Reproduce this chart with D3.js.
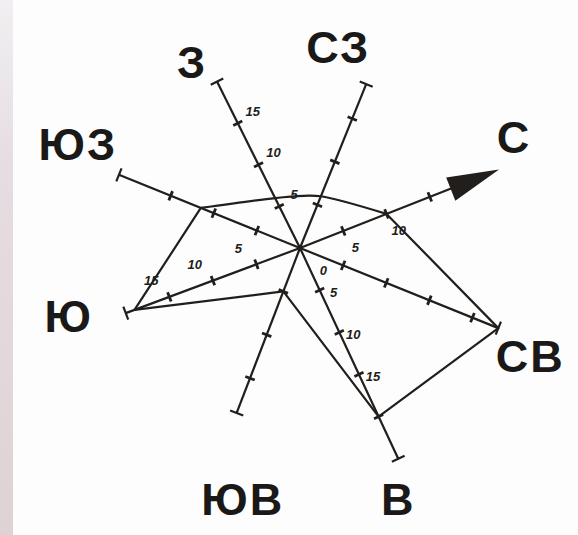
<!DOCTYPE html>
<html>
<head>
<meta charset="utf-8">
<script src="https://cdn.jsdelivr.net/npm/d3@7"></script>
<style>
  html, body { margin: 0; padding: 0; background: #fdfdfd; }
  svg { display: block; }
</style>
</head>
<body>
<div id="chart"></div>
<script>
// wind directions, clockwise from north
var directions = ["С", "СВ", "В", "ЮВ", "Ю", "ЮЗ", "З", "СЗ"];
// wind frequency per direction
var frequency = [10, 23, 20, 5, 19, 11.5, 6, 6];
// how far each axis is drawn (same units)
var axisLength = [23, 23, 25, 19, 20, 21, 20, 19];
var tickValues = [5, 10, 15, 20];
// numbers written along some axes
var labelAxis = ["З", "З", "З", "Ю", "Ю", "Ю", "С", "С", "В", "В", "В", "В"];
var labelText = ["5", "10", "15", "5", "10", "15", "5", "10", "0", "5", "10", "15"];

// layout: the rose is drawn in a tilted view
var w = 578, h = 535;
var cx = 300, cy = 248;
var axisAngle = [-21.5, 22, 65, 111, 159.5, 202, 243.5, 292]; // screen degrees
var labelSide = {"З": 19, "Ю": 22, "С": 19, "В": -12};
var labelShift = {"З": 0.5, "Ю": 1.2, "С": 0.6, "В": 0.8};
var nameOffset = [[15, -17], [32, 44], [0, 56], [6, 102], [-57, 19], [-41, -15], [-25, -4], [-28, -21]];
var ink = "#221e1b";

var r = d3.scaleLinear().domain([0, 5]).range([0, 46.5]);

function pt(i, v) {
	var a = (axisAngle[i] + 90) * Math.PI / 180;
	var p = d3.pointRadial(a, r(v));
	return [cx + p[0], cy + p[1]];
}
function unit(i) {
	var a = axisAngle[i] * Math.PI / 180;
	return [Math.cos(a), Math.sin(a)];
}

var svg = d3.select("#chart")
			.append("svg")
			.attr("width", w)
			.attr("height", h);

// scanned page edge on the left
var grad = svg.append("defs").append("linearGradient")
	.attr("id", "edge").attr("x1", 0).attr("y1", 0).attr("x2", 0).attr("y2", 1);
grad.append("stop").attr("offset", "0%").attr("stop-color", "#f1eff1");
grad.append("stop").attr("offset", "30%").attr("stop-color", "#e6dde2");
grad.append("stop").attr("offset", "100%").attr("stop-color", "#dfd2d4");
svg.append("rect").attr("x", 0).attr("y", 0).attr("width", 13).attr("height", h).attr("fill", "url(#edge)");

var g = svg.append("g");

// axes (north one ends with an arrow)
g.selectAll("line.axis")
	.data(directions)
	.enter()
	.append("line")
	.attr("class", "axis")
	.attr("x1", cx).attr("y1", cy)
	.attr("x2", function(d, i) { return pt(i, i === 0 ? axisLength[i] - 4 : axisLength[i])[0]; })
	.attr("y2", function(d, i) { return pt(i, i === 0 ? axisLength[i] - 4 : axisLength[i])[1]; })
	.attr("stroke", ink)
	.attr("stroke-width", 2.2);

// ticks every 5 units
var ticks = [];
directions.forEach(function(d, i) {
	tickValues.forEach(function(v) {
		if (v < axisLength[i] - 1.2 && !(i === 0 && v > 16)) ticks.push({i: i, v: v, len: 5});
	});
	if (i !== 0) ticks.push({i: i, v: axisLength[i], len: 7});
});
g.selectAll("line.tick")
	.data(ticks)
	.enter()
	.append("line")
	.attr("class", "tick")
	.each(function(d) {
		var p = pt(d.i, d.v), u = unit(d.i);
		d3.select(this)
			.attr("x1", p[0] - u[1] * d.len).attr("y1", p[1] + u[0] * d.len)
			.attr("x2", p[0] + u[1] * d.len).attr("y2", p[1] - u[0] * d.len);
	})
	.attr("stroke", ink)
	.attr("stroke-width", function(d) { return d.len > 5 ? 2.2 : 2.8; });

// arrow head on north axis
var tip = pt(0, axisLength[0]), base = pt(0, axisLength[0] - 5.6), u0 = unit(0);
g.append("path")
	.attr("d", d3.line()([
		tip,
		[base[0] - u0[1] * 13, base[1] + u0[0] * 13],
		[base[0] + u0[1] * 12, base[1] - u0[0] * 12]
	]) + "Z")
	.attr("fill", ink);

// frequency polygon: straight edges, smooth arc on the northwest side
var verts = frequency.map(function(v, i) { return pt(i, v); });
g.append("path")
	.attr("d", d3.line()([verts[0], verts[1], verts[2], verts[3], verts[4], verts[5]]))
	.attr("fill", "none")
	.attr("stroke", ink)
	.attr("stroke-width", 2.2)
	.attr("stroke-linejoin", "round");
g.append("path")
	.attr("d", d3.line().curve(d3.curveCardinal.tension(0.2))([verts[5], verts[6], verts[7], verts[0]]))
	.attr("fill", "none")
	.attr("stroke", ink)
	.attr("stroke-width", 2.2);

// centre dot
g.append("circle").attr("cx", cx).attr("cy", cy).attr("r", 3).attr("fill", ink);

// numbers along axes
g.selectAll("text.num")
	.data(labelText)
	.enter()
	.append("text")
	.attr("class", "num")
	.each(function(d, k) {
		var key = labelAxis[k], i = directions.indexOf(key);
		var p = pt(i, Math.max(+d + labelShift[key], 3.2)), u = unit(i), s = labelSide[key];
		d3.select(this)
			.attr("x", p[0] - u[1] * s)
			.attr("y", p[1] + u[0] * s + 5);
	})
	.attr("text-anchor", "middle")
	.attr("font-family", "'Liberation Sans', Arial, sans-serif")
	.attr("font-weight", "bold")
	.attr("font-style", "italic")
	.attr("font-size", 13)
	.attr("fill", ink)
	.text(function(d) { return d; });

// direction names
g.selectAll("text.name")
	.data(directions)
	.enter()
	.append("text")
	.attr("class", "name")
	.attr("x", function(d, i) { return pt(i, axisLength[i])[0] + nameOffset[i][0]; })
	.attr("y", function(d, i) { return pt(i, axisLength[i])[1] + nameOffset[i][1]; })
	.attr("text-anchor", "middle")
	.attr("font-family", "'Liberation Sans', Arial, sans-serif")
	.attr("font-weight", "bold")
	.attr("font-size", 45)
	.attr("letter-spacing", 2)
	.attr("fill", "#1b1918")
	.text(function(d) { return d; });
</script>
</body>
</html>
